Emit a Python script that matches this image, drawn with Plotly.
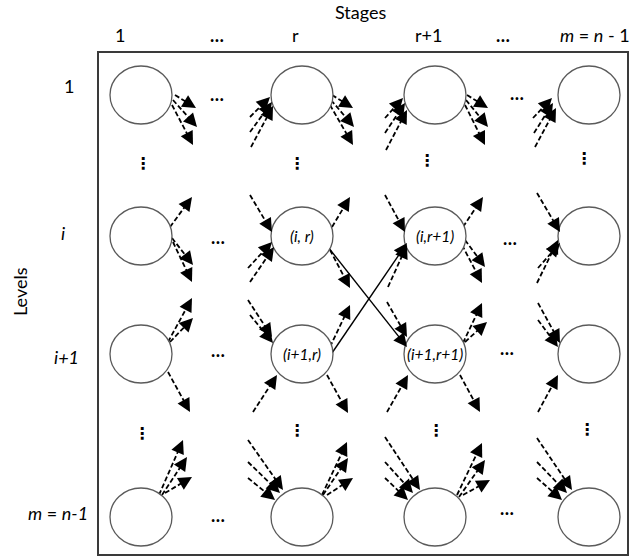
import math
import plotly.graph_objects as go

# ---- diagram data (positions in pixel-like plot units) ----
STAGE_LABELS = ["1", "…", "r", "r+1", "…", "<i>m</i> = <i>n</i> - 1"]
STAGE_LABEL_X = [120, 217, 295, 428, 503, 595]
STAGE_LABEL_Y = 35

LEVEL_LABELS = ["1", "<i>i</i>", "<i>i+1</i>", "<i>m</i> = <i>n-1</i>"]
LEVEL_LABEL_X = [69, 63, 66, 58]
LEVEL_LABEL_Y = [86, 233, 357, 513]

NODE_X = [141, 302, 435, 589]
NODE_Y = [95, 236, 354, 517]
NODE_RX = 31
NODE_RY = 29
NODE_TEXT = [["", "", "", ""],
             ["", "(i, r)", "(i,r+1)", ""],
             ["", "(i+1,r)", "(i+1,r+1)", ""],
             ["", "", "", ""]]

HDOTS_X = [217, 517, 218, 510, 218, 507, 218, 507]
HDOTS_Y = [94, 93, 237, 238, 350, 348, 515, 508]
VDOTS_X = [143, 297, 427, 584, 142, 297, 436, 587]
VDOTS_Y = [163, 163, 160, 158, 433, 430, 430, 429]

FRAME = [98, 52, 628, 555]

# dashed arrows: tail x, tail y, tip x, tip y
DASH_X0 = [175, 173, 172, 250, 250, 251, 332, 331, 330, 385, 385, 386, 467, 466, 465, 533, 534, 535,
           170, 172, 173, 250, 248, 250, 332, 330, 385, 388, 463, 465, 462, 537, 537, 538,
           168, 170, 168, 248, 250, 253, 330, 327, 387, 387, 463, 465, 460, 538, 538, 538,
           159, 162, 165, 248, 248, 248, 322, 323, 327, 385, 385, 385, 457, 459, 463, 537, 537, 537]
DASH_Y0 = [95, 100, 105, 117, 132, 147, 95, 100, 105, 118, 133, 150, 95, 100, 105, 118, 133, 147,
           227, 238, 242, 195, 268, 282, 227, 250, 195, 287, 227, 240, 245, 193, 283, 268,
           342, 342, 372, 300, 315, 412, 347, 375, 302, 412, 343, 342, 375, 303, 320, 412,
           495, 495, 493, 440, 462, 478, 495, 495, 495, 437, 462, 478, 495, 497, 495, 438, 462, 478]
DASH_X1 = [196, 197, 193, 270, 272, 273, 353, 354, 353, 403, 405, 407, 488, 488, 485, 552, 553, 556,
           192, 193, 192, 272, 272, 274, 350, 350, 405, 407, 483, 485, 482, 560, 558, 560,
           192, 193, 190, 272, 273, 277, 350, 348, 407, 408, 482, 487, 480, 560, 558, 558,
           183, 187, 192, 283, 280, 275, 347, 348, 353, 420, 413, 408, 482, 485, 490, 572, 567, 562]
DASH_Y1 = [108, 127, 145, 97, 102, 106, 108, 127, 145, 98, 103, 110, 108, 127, 145, 98, 103, 108,
           197, 265, 282, 232, 242, 247, 197, 288, 232, 245, 197, 267, 283, 232, 240, 243,
           298, 318, 412, 337, 343, 375, 305, 413, 337, 375, 303, 322, 412, 343, 347, 375,
           440, 457, 477, 490, 493, 500, 442, 458, 478, 490, 493, 500, 443, 460, 480, 490, 493, 500]

# solid arrows
SOLID_X0 = [328, 332]
SOLID_Y0 = [247, 353]
SOLID_X1 = [407, 407]
SOLID_Y1 = [347, 243]

FONT = "Lato, 'Open Sans', sans-serif"

fig = go.Figure()

def line_trace(x0s, y0s, x1s, y1s, dash, width, shorten):
    xs, ys = [], []
    for a, b, c, d in zip(x0s, y0s, x1s, y1s):
        L = math.hypot(c - a, d - b)
        ux, uy = (c - a) / L, (d - b) / L
        xs += [a, c - ux * shorten, None]
        ys += [b, d - uy * shorten, None]
    fig.add_trace(go.Scatter(x=xs, y=ys, mode="lines", hoverinfo="skip",
                             line=dict(color="black", width=width, dash=dash)))

line_trace(DASH_X0, DASH_Y0, DASH_X1, DASH_Y1, "5px,2.5px", 1.8, 5)
line_trace(SOLID_X0, SOLID_Y0, SOLID_X1, SOLID_Y1, "solid", 1.4, 5)

annotations = []

def heads(x0s, y0s, x1s, y1s):
    for a, b, c, d in zip(x0s, y0s, x1s, y1s):
        L = math.hypot(c - a, d - b)
        ux, uy = (c - a) / L, (d - b) / L
        annotations.append(dict(x=c, y=d, ax=c - ux * 6, ay=d - uy * 6,
                                xref="x", yref="y", axref="x", ayref="y",
                                text="", showarrow=True, arrowhead=2,
                                arrowsize=1.8, arrowwidth=1.5, arrowcolor="black"))

heads(DASH_X0, DASH_Y0, DASH_X1, DASH_Y1)
heads(SOLID_X0, SOLID_Y0, SOLID_X1, SOLID_Y1)

shapes = [dict(type="rect", x0=FRAME[0], y0=FRAME[1], x1=FRAME[2], y1=FRAME[3],
               xref="x", yref="y", line=dict(color="#3a3a3a", width=2), layer="below")]
for r, cy in enumerate(NODE_Y):
    for c, cx in enumerate(NODE_X):
        shapes.append(dict(type="circle", xref="x", yref="y",
                           x0=cx - NODE_RX, x1=cx + NODE_RX, y0=cy - NODE_RY, y1=cy + NODE_RY,
                           line=dict(color="#5a5a5a", width=1.3), fillcolor="white", layer="above"))
        if NODE_TEXT[r][c]:
            annotations.append(dict(x=cx, y=cy, xref="x", yref="y", showarrow=False,
                                    text="<i>" + NODE_TEXT[r][c] + "</i>",
                                    font=dict(family=FONT, size=15.5, color="black")))

annotations.append(dict(x=360, y=0, xref="x", yref="y", yanchor="top", borderpad=0,
                        showarrow=False, text="Stages",
                        font=dict(family=FONT, size=18, color="black")))
for lab, x in zip(STAGE_LABELS, STAGE_LABEL_X):
    annotations.append(dict(x=x, y=STAGE_LABEL_Y, xref="x", yref="y", showarrow=False,
                            text=("<b>…</b>" if lab == "…" else lab),
                            font=dict(family=FONT, size=18, color="black")))
for lab, x, y in zip(LEVEL_LABELS, LEVEL_LABEL_X, LEVEL_LABEL_Y):
    annotations.append(dict(x=x, y=y, xref="x", yref="y", showarrow=False, text=lab,
                            font=dict(family=FONT, size=18, color="black")))
annotations.append(dict(x=20, y=292, xref="x", yref="y", showarrow=False, text="Levels",
                        textangle=-90, font=dict(family=FONT, size=18, color="black")))
for x, y in zip(HDOTS_X, HDOTS_Y):
    annotations.append(dict(x=x, y=y, xref="x", yref="y", showarrow=False, text="<b>…</b>",
                            font=dict(family=FONT, size=18, color="black")))
for x, y in zip(VDOTS_X, VDOTS_Y):
    annotations.append(dict(x=x, y=y, xref="x", yref="y", showarrow=False, text="<b>⋮</b>",
                            font=dict(family="DejaVu Sans", size=16, color="black")))

fig.update_layout(
    width=631, height=560, margin=dict(l=0, r=0, t=0, b=0),
    paper_bgcolor="white", plot_bgcolor="white", showlegend=False,
    xaxis=dict(range=[0, 631], visible=False, fixedrange=True),
    yaxis=dict(range=[560, 0], visible=False, fixedrange=True),
    shapes=shapes, annotations=annotations,
)

fig.write_html("out.html", config={"displayModeBar": False},
               post_script="document.body.style.margin='0';")
